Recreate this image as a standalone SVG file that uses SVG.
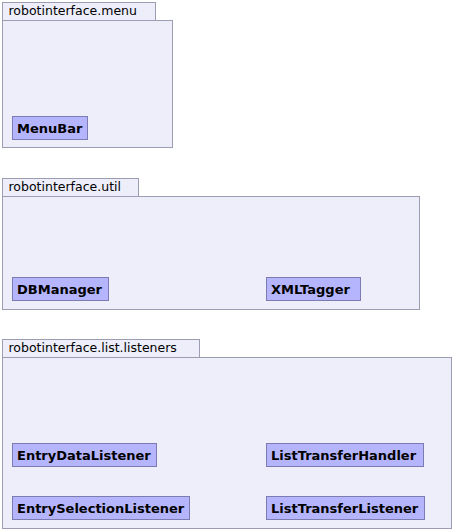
<svg xmlns="http://www.w3.org/2000/svg" width="471" height="532" viewBox="0 0 471 532">
<style>
.pkg{fill:#eeeefb;stroke:#9c9cb2;stroke-width:1}
.cls{fill:#b5b5fd;stroke:#7c7cb2;stroke-width:1}
.pl{font-family:"DejaVu Sans",sans-serif;font-size:12.5px;fill:#000}
.cl{font-family:"DejaVu Sans",sans-serif;font-size:13px;font-weight:bold;fill:#000}
</style>
<rect width="471" height="532" fill="#fff"/>
<g id="pkg-menu">
<rect class="pkg" x="2.5" y="2.5" width="153" height="18"/>
<rect class="pkg" x="2.5" y="20.5" width="170" height="127"/>
<text class="pl" x="8.5" y="15">robotinterface.menu</text>
</g>
<g id="MenuBar">
<rect class="cls" x="12.5" y="116.5" width="75" height="23"/>
<text class="cl" x="17" y="132.5">MenuBar</text>
</g>
<g id="pkg-util">
<rect class="pkg" x="2.5" y="178.5" width="136" height="18"/>
<rect class="pkg" x="2.5" y="196.5" width="417" height="113"/>
<text class="pl" x="8.5" y="191">robotinterface.util</text>
</g>
<g id="DBManager">
<rect class="cls" x="12.5" y="277.5" width="96" height="23"/>
<text class="cl" x="17" y="293.5">DBManager</text>
</g>
<g id="XMLTagger">
<rect class="cls" x="266.5" y="277.5" width="94" height="23"/>
<text class="cl" x="271" y="293.5">XMLTagger</text>
</g>
<g id="pkg-listeners">
<rect class="pkg" x="2.5" y="339.5" width="197" height="18"/>
<rect class="pkg" x="2.5" y="357.5" width="449" height="171"/>
<text class="pl" x="8.5" y="352">robotinterface.list.listeners</text>
</g>
<g id="EntryDataListener">
<rect class="cls" x="12.5" y="443.5" width="144" height="23"/>
<text class="cl" x="17" y="459.5">EntryDataListener</text>
</g>
<g id="EntrySelectionListener">
<rect class="cls" x="12.5" y="496.5" width="177" height="23"/>
<text class="cl" x="17" y="512.5">EntrySelectionListener</text>
</g>
<g id="ListTransferHandler">
<rect class="cls" x="266.5" y="443.5" width="157" height="23"/>
<text class="cl" x="271" y="459.5">ListTransferHandler</text>
</g>
<g id="ListTransferListener">
<rect class="cls" x="266.5" y="496.5" width="158" height="23"/>
<text class="cl" x="271" y="512.5">ListTransferListener</text>
</g>
<g id="connectors"/>
</svg>
